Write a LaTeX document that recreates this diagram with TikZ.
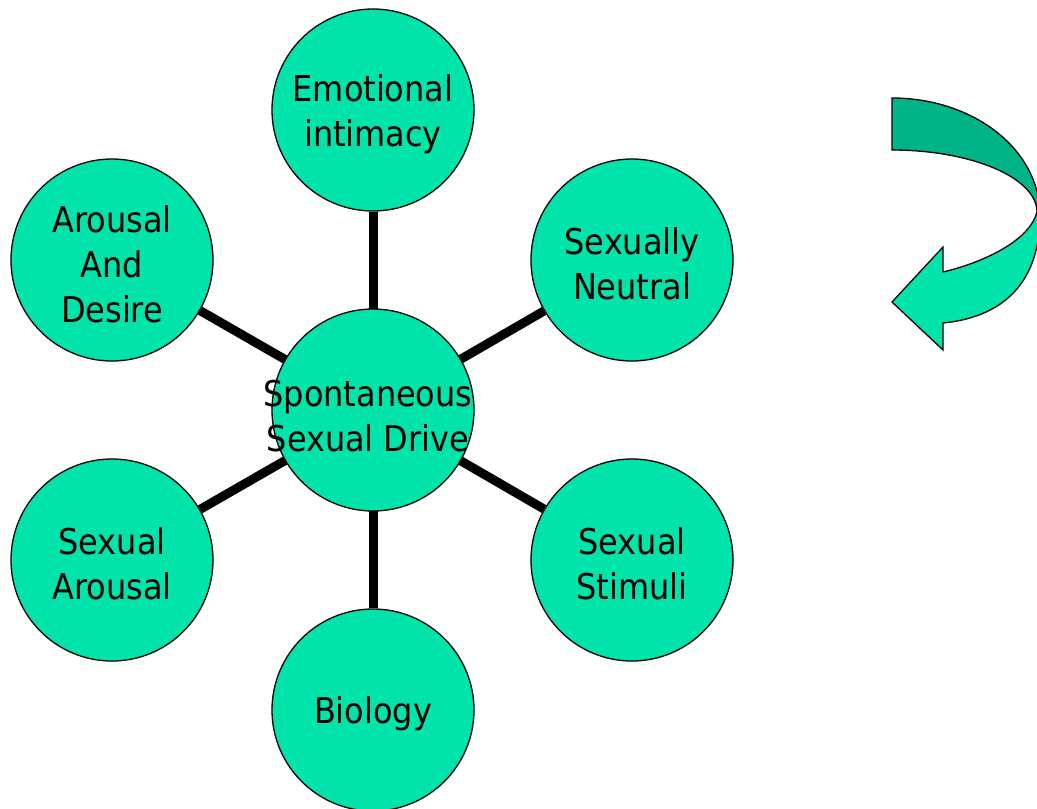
\documentclass[tikz,border=0pt]{standalone}
\usepackage{fontspec}
\setmainfont{DejaVu Sans Condensed}
\definecolor{lightgreen}{HTML}{00E3AA}
\definecolor{darkgreen}{HTML}{00B487}
\tikzset{
  bubble/.style={circle, draw=black, line width=1.3pt, fill=lightgreen, minimum size=202pt, inner sep=0pt},
  bubbletext/.style={align=center, font=\fontsize{35.5}{45}\selectfont, inner sep=0pt, yshift=-4pt},
  spoke/.style={line width=9pt, black},
  arrowoutline/.style={draw=black, line width=1.3pt}
}
\begin{document}
\begin{tikzpicture}[x=1pt,y=-1pt]
\useasboundingbox (0,0) rectangle (1037,809);
\coordinate (cc) at (373,410);
\node[bubble, label={[bubbletext]center:{Emotional\\intimacy}}] (emo) at (373,110) {};
\node[bubble, label={[bubbletext]center:{Arousal\\And\\Desire}}] (aro) at (112,260) {};
\node[bubble, label={[bubbletext]center:{Sexually\\Neutral}}] (neu) at (632,260) {};
\node[bubble, label={[bubbletext]center:{Sexual\\Arousal}}] (sar) at (112,560) {};
\node[bubble, label={[bubbletext]center:{Sexual\\Stimuli}}] (sti) at (632,560) {};
\node[bubble, label={[bubbletext]center:{Biology}}] (bio) at (373,710) {};
\foreach \n in {emo,aro,neu,sar,sti,bio}{
  \draw[spoke] (cc) -- (\n);
}
\node[bubble] (ctr) at (cc) {};
\node[bubbletext] (ctrtext) at (368,412) {Spontaneous\\Sexual Drive};
% curved arrow
\begin{scope}
\clip (0,0) rectangle (1037,809);
\def\arrowpath{(892,98) .. controls (974,98) and (1040,150) .. (1040,215)
  .. controls (1040,290) and (995,318) .. (943,323)
  -- (943,350) -- (892,302) -- (943,247) -- (943,272)
  .. controls (985,262) and (1030,240) .. (1037,212)
  .. controls (1037,178) and (972,150) .. (892,150) -- cycle}
\fill[lightgreen] \arrowpath;
\begin{scope}
\clip (880,90) rectangle (1040,210);
\fill[darkgreen] \arrowpath;
\end{scope}
\draw[arrowoutline, line join=miter] \arrowpath;
\end{scope}
\end{tikzpicture}
\end{document}
